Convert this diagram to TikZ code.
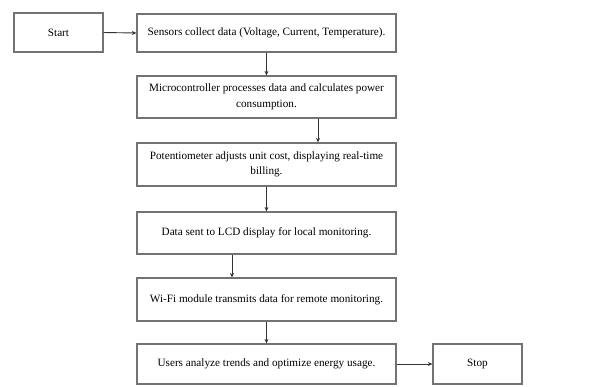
\documentclass[tikz,border=0pt]{standalone}
\usepackage{fontspec}
\setmainfont{Liberation Serif}
\usetikzlibrary{arrows.meta}
\begin{document}
\begin{tikzpicture}[x=1pt,y=-1pt,
  box/.style={draw=black!55,line width=1.3pt,fill=white,align=center,font=\fontsize{11.2}{15.5}\selectfont,inner sep=0pt},
  arr/.style={draw=black!80,line width=0.9pt,-{Stealth[length=4.5pt,width=4pt]}}]
\useasboundingbox[fill=white] (0,0) rectangle (609,386);
\node[box,minimum width=89pt,minimum height=39pt] (start) at (58.5,32.5) {Start};
\node[box,minimum width=259pt,minimum height=38pt] (b1) at (266.5,33) {Sensors collect data (Voltage, Current, Temperature).};
\node[box,minimum width=259pt,minimum height=42pt] (b2) at (266.5,97) {Microcontroller processes data and calculates power\\consumption.};
\node[box,minimum width=259pt,minimum height=43pt] (b3) at (266.5,164.5) {Potentiometer adjusts unit cost, displaying real-time\\billing.};
\node[box,minimum width=259pt,minimum height=42pt] (b4) at (266.5,233) {Data sent to LCD display for local monitoring.};
\node[box,minimum width=259pt,minimum height=43pt] (b5) at (266.5,299.5) {Wi-Fi module transmits data for remote monitoring.};
\node[box,minimum width=259pt,minimum height=40pt] (b6) at (266.5,364) {Users analyze trends and optimize energy usage.};
\node[box,minimum width=89pt,minimum height=40pt] (stop) at (477.5,364) {Stop};
\draw[arr] (start.east) -- (b1.west);
\draw[arr] (b1.south) -- (b2.north);
\draw[arr] (b2.south -| 318,0) -- (b3.north -| 318,0);
\draw[arr] (b3.south) -- (b4.north);
\draw[arr] (b4.south -| 232,0) -- (b5.north -| 232,0);
\draw[arr] (b5.south) -- (b6.north);
\draw[arr] (b6.east) -- (stop.west);
\end{tikzpicture}
\end{document}
